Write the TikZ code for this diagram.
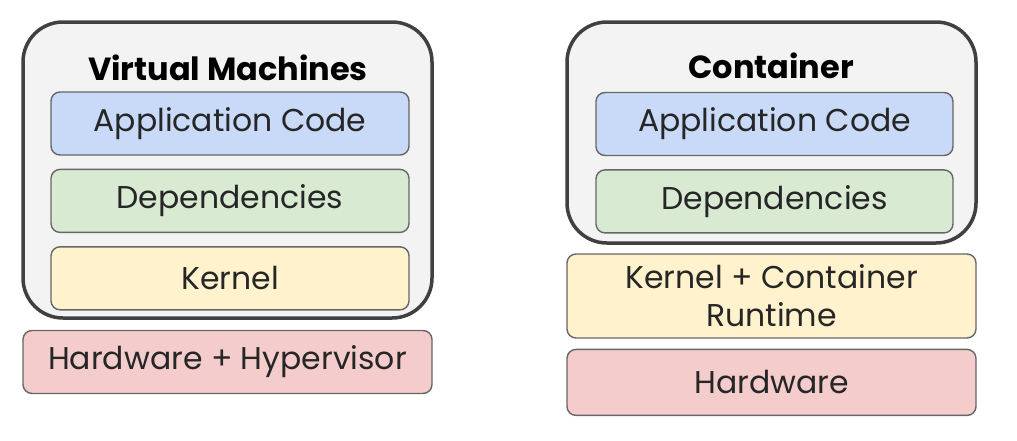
\documentclass[tikz,border=0pt]{standalone}
\usepackage{fontspec}
\setmainfont{Poppins}
\usetikzlibrary{positioning}
\definecolor{appblue}{HTML}{C9DAF8}
\definecolor{depgreen}{HTML}{D9EAD3}
\definecolor{kernyellow}{HTML}{FFF2CC}
\definecolor{hwred}{HTML}{F4CCCC}
\definecolor{framegray}{HTML}{F3F3F3}
\definecolor{edgegray}{HTML}{666666}
\definecolor{darkgray}{HTML}{404040}
\tikzset{
  layer/.style args={#1,#2}{
  draw=edgegray,
  rounded corners=9pt,
  line width=1.4pt,
  fill=#1,
  minimum width=#2pt,
  minimum height=63pt,
  align=center,
  font=\fontsize{31.5}{38}\selectfont,
  text=black!85
  },
  frame/.style={rounded corners=40pt,line width=3.5pt,draw=darkgray,fill=framegray},
  heading/.style={font=\fontsize{32}{38}\selectfont\bfseries}
}
\begin{document}
\begin{tikzpicture}[x=1pt,y=-1pt]
  \useasboundingbox (0,0) rectangle (1017,440);

  % virtual machines
  \draw [frame] (23,22) rectangle (432,318);
  \node [heading] (vm) at (228,68) {Virtual Machines};
  \node [layer={appblue,358}] (app1) at (230,123.5) {Application Code};
  \node [layer={depgreen,358},below=13pt of app1] (dep1) {Dependencies};
  \node [layer={kernyellow,358},below=13pt of dep1] (ker1) {Kernel};
  \node [layer={hwred,409}] (hw1) at (227.5,362) {Hardware + Hypervisor};

  % container
  \draw [frame] (567,22) rectangle (976,243);
  \node [heading] (ct) at (771,66) {Container};
  \node [layer={appblue,357}] (app2) at (774.5,124) {Application Code};
  \node [layer={depgreen,357},below=13pt of app2] (dep2) {Dependencies};
  \node [layer={kernyellow,409},minimum height=84pt] (ker2) at (771.5,296) {Kernel + Container\\Runtime};
  \node [layer={hwred,409},minimum height=66pt,below=10pt of ker2] (hw2) {Hardware};
\end{tikzpicture}
\end{document}
